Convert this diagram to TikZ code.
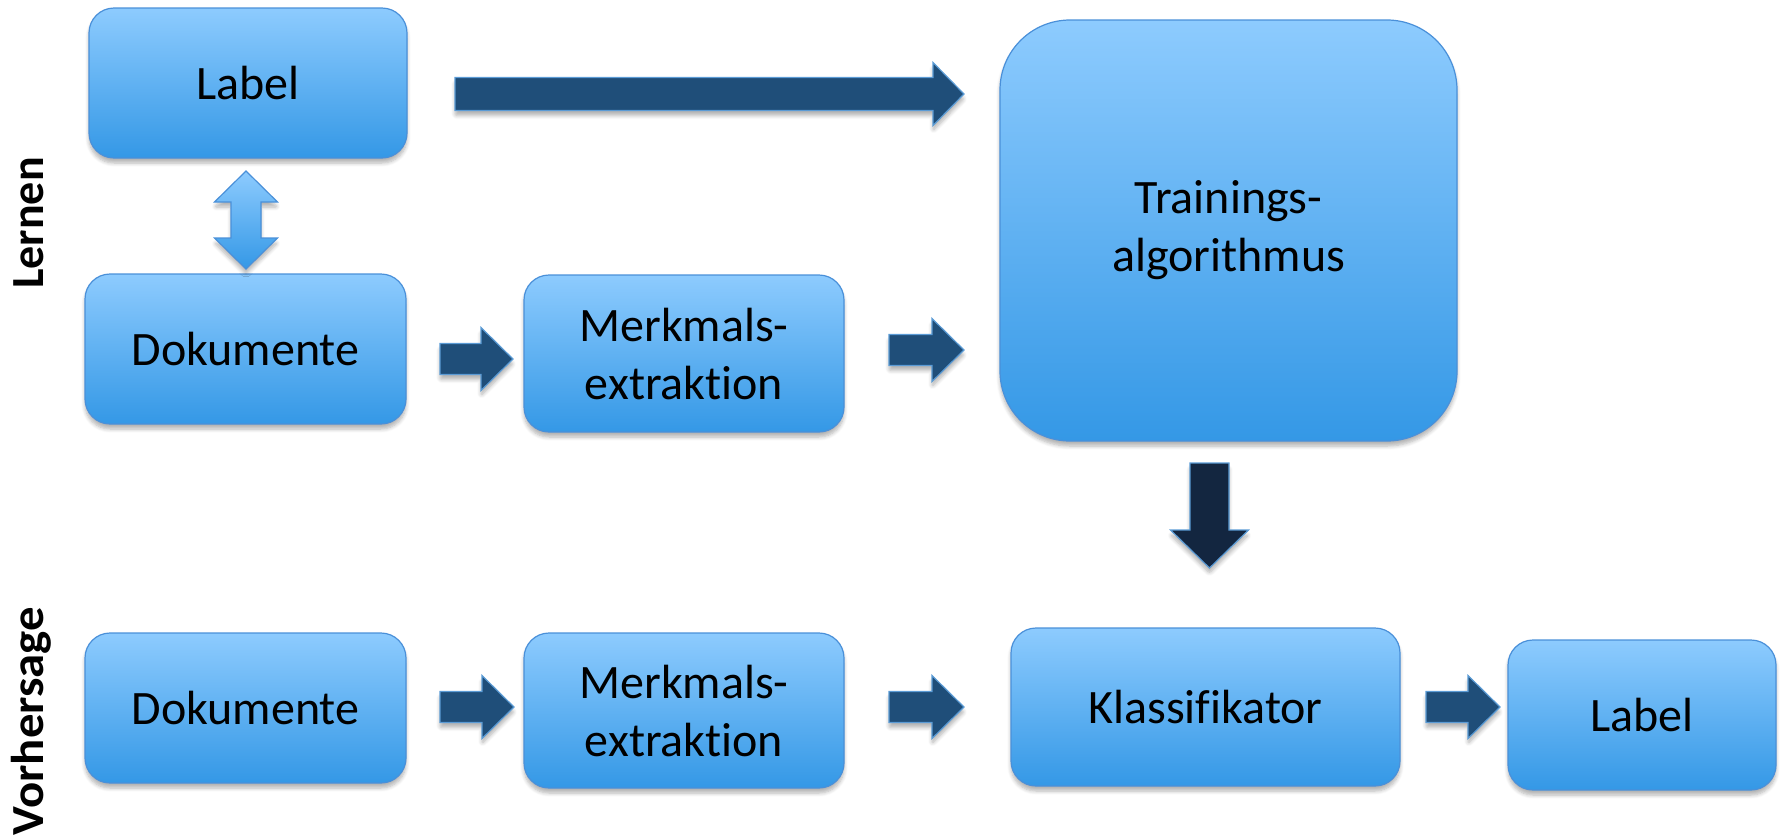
\documentclass[tikz,border=0pt]{standalone}
\usepackage{fontspec}
\setmainfont{Carlito}[Ligatures=NoCommon]
\usetikzlibrary{calc,shadows.blur}
\definecolor{boxtop}{RGB}{141,203,254}
\definecolor{boxbot}{RGB}{52,152,230}
\definecolor{boxline}{RGB}{74,144,217}
\definecolor{arrowfill}{RGB}{31,78,121}
\definecolor{darkarrow}{RGB}{19,38,64}
\definecolor{arrowline}{RGB}{91,155,213}
\tikzset{
  softshadow/.style={blur shadow={shadow xshift=0pt, shadow yshift=-2.5pt, shadow blur steps=6, shadow blur extra rounding=1pt, shadow opacity=30}},
  box/.style={rounded corners=12.5pt, draw=boxline, line width=0.6pt,
    top color=boxtop, bottom color=boxbot, align=center, inner sep=0pt,
    font=\fontsize{24}{29}\selectfont, softshadow},
  blockarrow/.style={fill=arrowfill, draw=arrowline, line width=0.6pt, softshadow},
  darkblock/.style={fill=darkarrow, draw=arrowline, line width=0.6pt, softshadow},
  dblarrow/.style={top color=boxtop, bottom color=boxbot, draw=boxline, line width=0.6pt, softshadow},
  sidelabel/.style={rotate=90, anchor=base, font=\fontsize{23}{28}\selectfont\bfseries}
}
% horizontal right-pointing block arrow: style, from, to(tip), shaft half, head half, head length
\newcommand\harrow[6]{%
  \path[#1] let \p1=(#2), \p2=(#3) in
   (\x1,\y1+#4) -- (\x2-#6,\y1+#4) -- (\x2-#6,\y1+#5) -- (\x2,\y1)
   -- (\x2-#6,\y1-#5) -- (\x2-#6,\y1-#4) -- (\x1,\y1-#4) -- cycle;}
% vertical down-pointing block arrow
\newcommand\varrow[6]{%
  \path[#1] let \p1=(#2), \p2=(#3) in
   (\x1-#4,\y1) -- (\x1-#4,\y2+#6) -- (\x1-#5,\y2+#6) -- (\x1,\y2)
   -- (\x1+#5,\y2+#6) -- (\x1+#4,\y2+#6) -- (\x1+#4,\y1) -- cycle;}
\begin{document}
\begin{tikzpicture}[x=0.5pt,y=-0.5pt]
\useasboundingbox (0,0) rectangle (1782,837);

% side labels
\node[sidelabel] (lern) at (43,223) {Lernen};
\node[sidelabel] (vorh) at (43,721) {\scalebox{1.06}[1]{Vorhersage}};

% boxes
\node[box, minimum width=159pt, minimum height=75pt] (lab1) at (248,83) {Label};
\node[box, minimum width=160.5pt, minimum height=75pt] (dok1) at (245.5,349) {Dokumente};
\node[box, minimum width=160pt, minimum height=78.5pt] (mer1) at (684,353.5) {Merkmals-\\extraktion};
\node[box, rounded corners=35pt, minimum width=228.5pt, minimum height=210.5pt] (train) at (1228.5,230.5) {Trainings-\\algorithmus};
\node[box, minimum width=160.5pt, minimum height=75pt] (dok2) at (245.5,708) {Dokumente};
\node[box, minimum width=160pt, minimum height=77.5pt] (mer2) at (684,710.5) {Merkmals-\\extraktion};
\node[box, minimum width=194.5pt, minimum height=79pt] (klass) at (1205.5,707) {Klassifikator};
\node[box, minimum width=134pt, minimum height=75pt] (lab2) at (1642,715) {Label};

% arrow end points
\coordinate (a1s) at (455,94);   \coordinate (a1e) at (964,94);
\coordinate (a2s) at (440,359);  \coordinate (a2e) at (513,359);
\coordinate (a3s) at (889,350);  \coordinate (a3e) at (964,350);
\coordinate (a4s) at (1209.5,463); \coordinate (a4e) at (1209.5,568);
\coordinate (a5s) at (440,707);  \coordinate (a5e) at (514,707);
\coordinate (a6s) at (889,707);  \coordinate (a6e) at (964,707);
\coordinate (a7s) at (1426,707); \coordinate (a7e) at (1500,707);
\coordinate (dtop) at (246,171); \coordinate (dbot) at (246,269);

% block arrows
\harrow{blockarrow}{a1s}{a1e}{8.25pt}{15.75pt}{15.5pt}
\harrow{blockarrow}{a2s}{a2e}{7.75pt}{15.75pt}{16pt}
\harrow{blockarrow}{a3s}{a3e}{7.75pt}{15.75pt}{16pt}
\varrow{darkblock}{a4s}{a4e}{9.75pt}{19.5pt}{19pt}
\harrow{blockarrow}{a5s}{a5e}{7.75pt}{15.75pt}{16pt}
\harrow{blockarrow}{a6s}{a6e}{7.75pt}{15.75pt}{16pt}
\harrow{blockarrow}{a7s}{a7e}{7.75pt}{15.75pt}{16pt}

% double arrow between Label and Dokumente
\path[dblarrow] let \p1=(dtop), \p2=(dbot) in
  (\x1,\y1) -- (\x1+15.75pt,\y1-15.5pt) -- (\x1+7.5pt,\y1-15.5pt)
  -- (\x1+7.5pt,\y2+15.5pt) -- (\x1+15.75pt,\y2+15.5pt) -- (\x1,\y2)
  -- (\x1-15.75pt,\y2+15.5pt) -- (\x1-7.5pt,\y2+15.5pt)
  -- (\x1-7.5pt,\y1-15.5pt) -- (\x1-15.75pt,\y1-15.5pt) -- cycle;
\end{tikzpicture}
\end{document}
